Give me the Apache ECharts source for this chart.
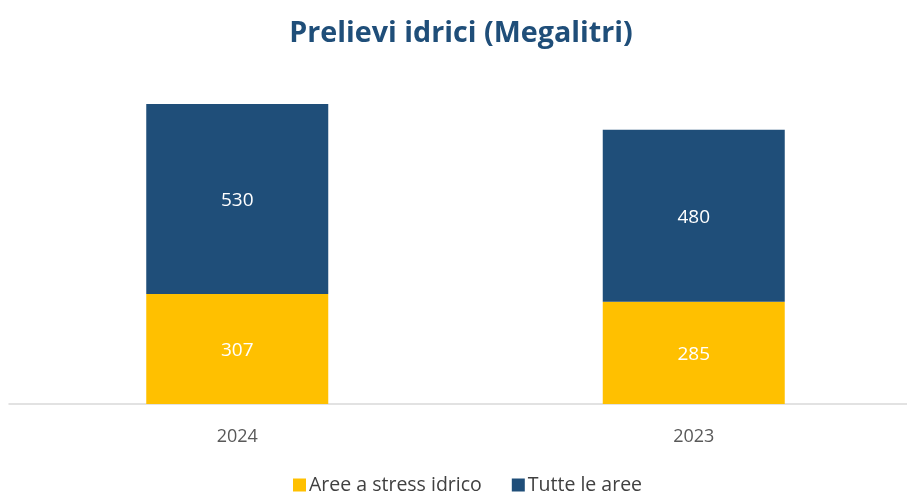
<!DOCTYPE html>
<html>
<head>
<meta charset="utf-8">
<script src="https://cdn.jsdelivr.net/npm/echarts@6/dist/echarts.min.js"></script>
<style>
  html, body { margin: 0; padding: 0; background: #ffffff; overflow: hidden; }
  #chart { width: 922px; height: 493px; }
</style>
</head>
<body>
<div id="chart"></div>
<script>
// Water withdrawals by year, in megalitres
const years = ['2024', '2023'];
const stressedAreas = [307, 285];
const allAreas = [530, 480];
const seriesNames = ['Aree a stress idrico', 'Tutte le aree'];
const titleText = 'Prelievi idrici (Megalitri)';

const FONT = '"Open Sans", "Liberation Sans", sans-serif';
const chart = echarts.init(document.getElementById('chart'), null, { renderer: 'canvas' });

const labelStyle = {
  show: true,
  position: 'inside',
  offset: [0, 2],
  color: '#ffffff',
  fontFamily: FONT,
  fontSize: 19
};

chart.setOption({
  backgroundColor: '#ffffff',
  animation: false,
  title: {
    text: titleText,
    left: 'center',
    top: 14,
    textStyle: { color: '#1F4E79', fontFamily: FONT, fontWeight: 'bold', fontSize: 28.7 }
  },
  legend: {
    top: 470,
    left: 288,
    itemWidth: 13,
    itemHeight: 13,
    itemGap: 30,
    icon: 'rect',
    textStyle: { color: '#404040', fontFamily: FONT, fontSize: 19.5, padding: [0, 0, 0, -2] },
    data: seriesNames
  },
  grid: { left: 9, right: 0, top: 81.4, bottom: 89, containLabel: false },
  xAxis: {
    type: 'category',
    data: years,
    axisLine: { lineStyle: { color: '#D9D9D9', width: 1.5 } },
    axisTick: { show: false },
    axisLabel: { color: '#595959', fontFamily: FONT, fontSize: 18, margin: 24 }
  },
  yAxis: {
    type: 'value',
    min: 0,
    max: 900,
    show: false,
    splitLine: { show: false }
  },
  series: [
    {
      name: seriesNames[0],
      type: 'bar',
      stack: 'total',
      barWidth: 182,
      data: stressedAreas,
      itemStyle: { color: '#FFC000' },
      label: labelStyle
    },
    {
      name: seriesNames[1],
      type: 'bar',
      stack: 'total',
      barWidth: 182,
      data: allAreas,
      itemStyle: { color: '#1F4E79' },
      label: labelStyle
    }
  ]
});
</script>
</body>
</html>
